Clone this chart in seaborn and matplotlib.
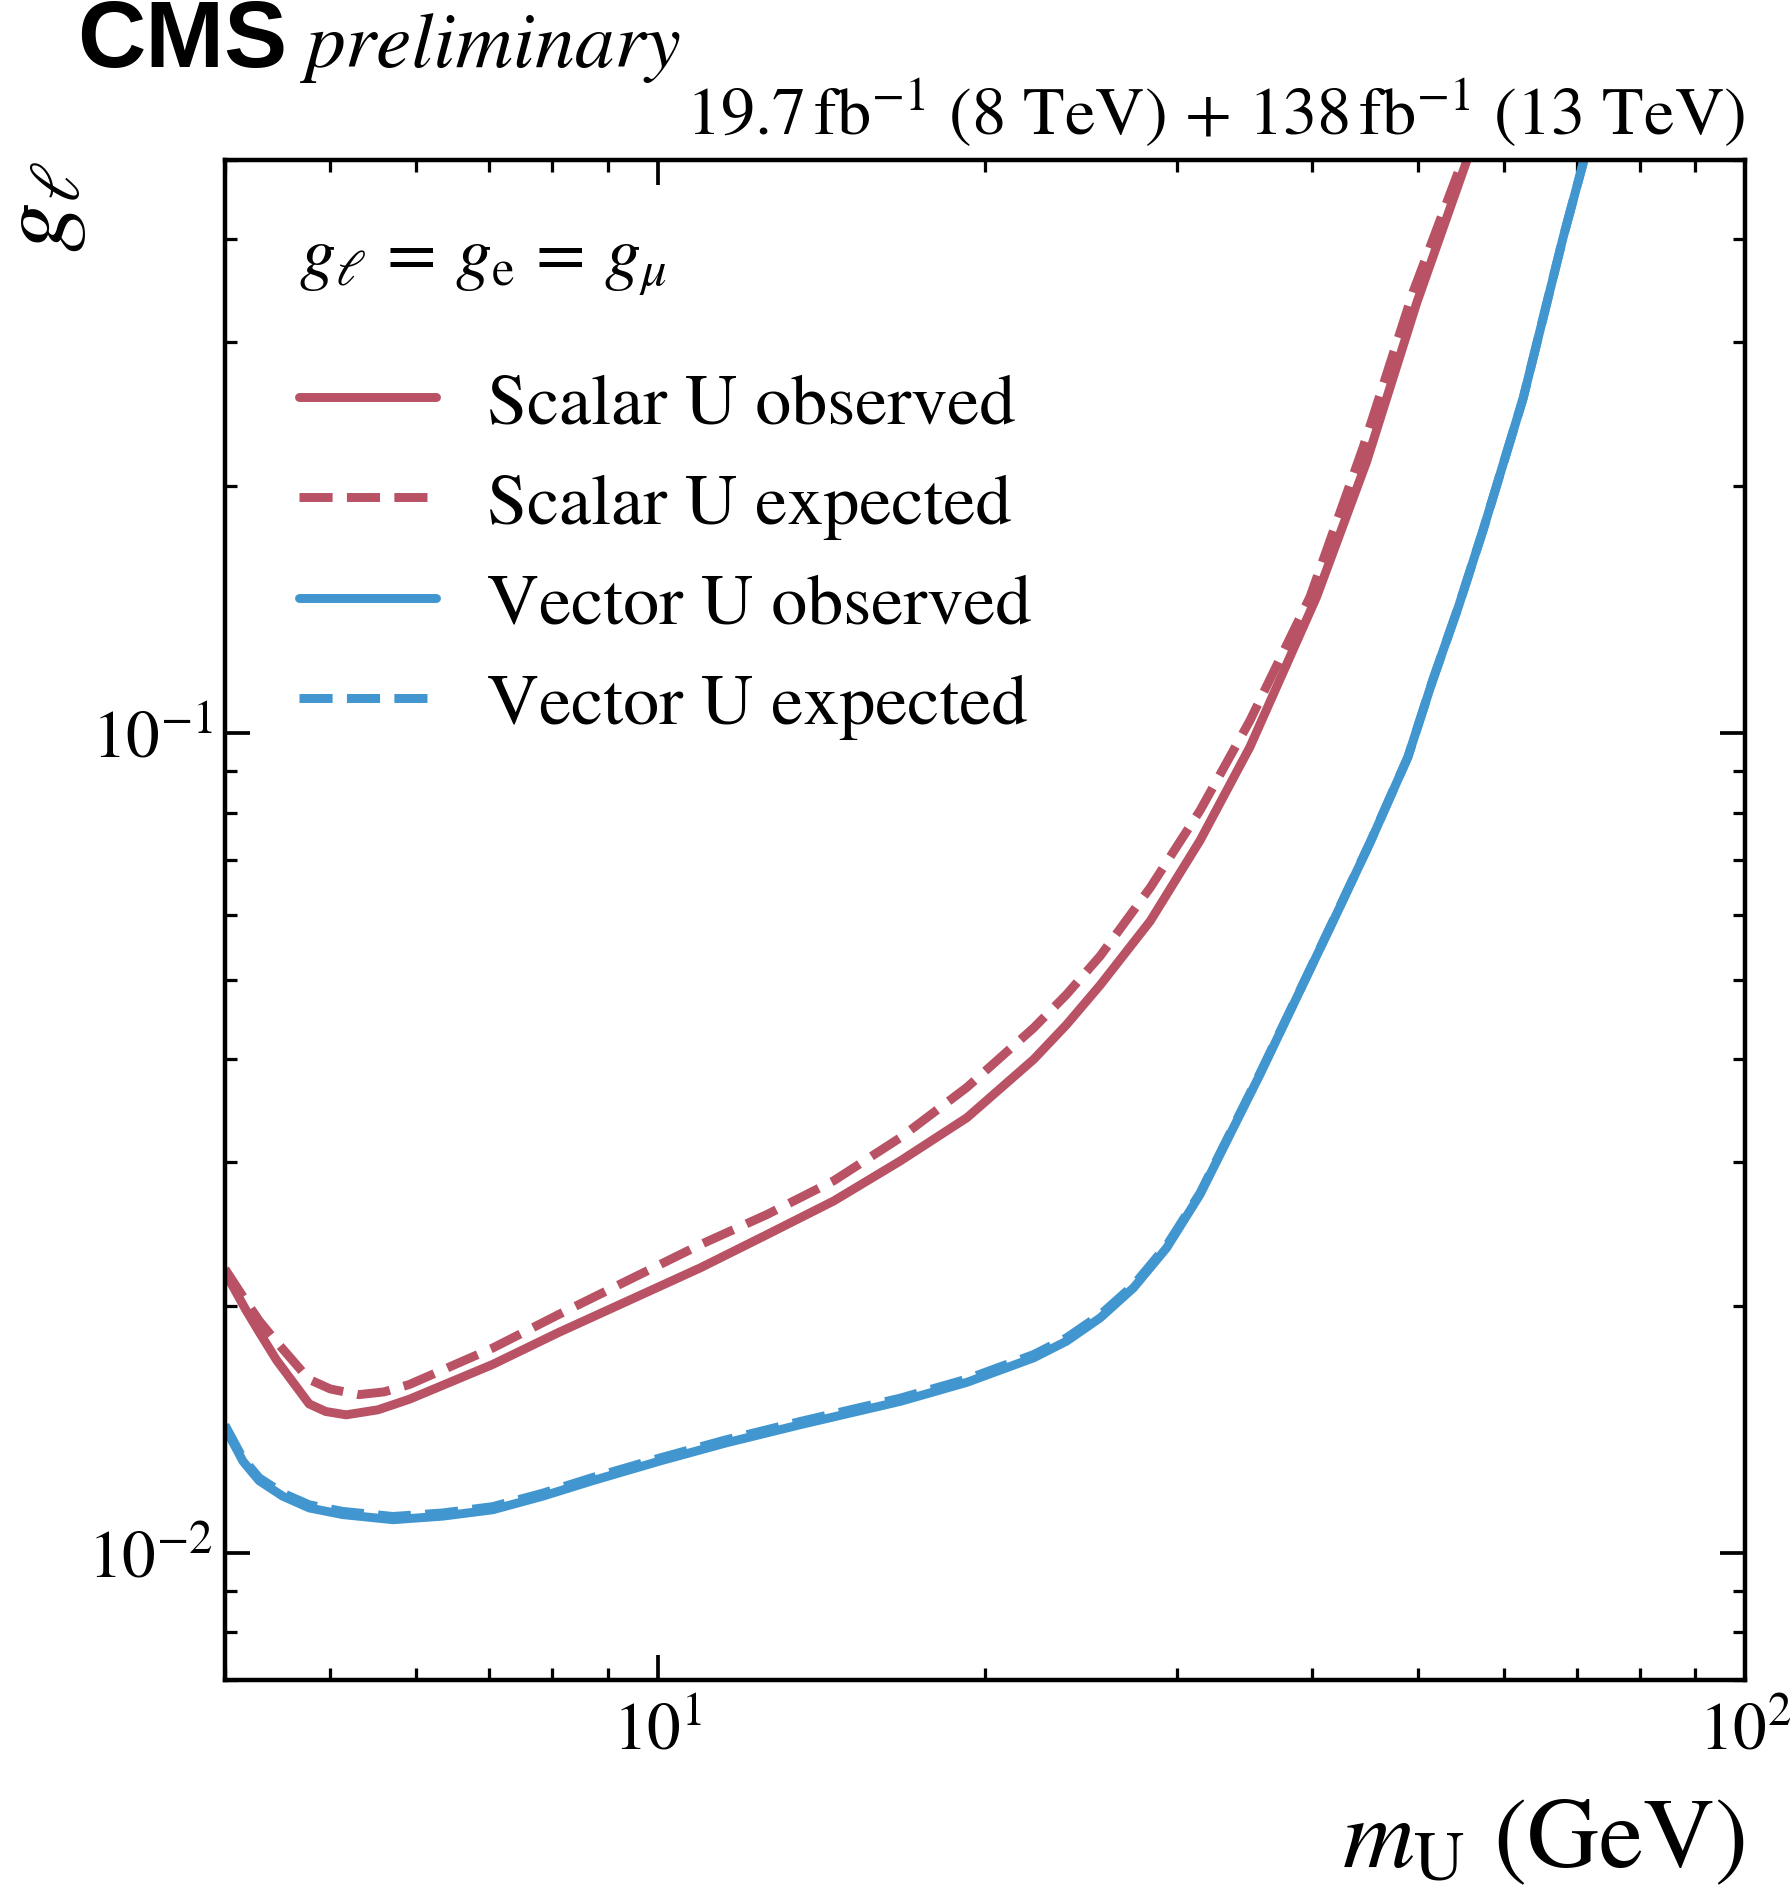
import numpy as np
import pandas as pd
import matplotlib
matplotlib.use("Agg")
import matplotlib.pyplot as plt
import matplotlib.ticker as mticker
import seaborn as sns

# 读取图中的曲线（坐标是肉眼估计）
scalar_obs_m = [4.0, 4.18, 4.30, 4.46, 4.78, 4.95, 5.17, 5.53, 5.91, 7.05, 8.11, 10.95, 12.61, 14.52, 16.72, 19.25,
                22.17, 23.77, 25.53, 28.38, 31.54, 35.05, 40.36, 44.87, 49.9, 55.5]
scalar_obs_g = [0.0220, 0.0198, 0.0186, 0.0172, 0.0152, 0.01488, 0.01474, 0.01495, 0.0154, 0.01698, 0.01858, 0.02228,
                0.02446, 0.02688, 0.03008, 0.03396, 0.0400, 0.0441, 0.0493, 0.0590, 0.0740, 0.0962, 0.1466, 0.2143,
                0.335, 0.5]

scalar_exp_m = [4.0, 4.18, 4.30, 4.46, 4.78, 5.0, 5.31, 5.6, 5.91, 7.05, 8.11, 10.95, 12.61, 14.52, 16.72, 19.25,
                22.17, 23.77, 25.53, 28.38, 31.54, 35.05, 39.8, 44.55, 49.5, 55.0]
scalar_exp_g = [0.0222, 0.0203, 0.0192, 0.0181, 0.01628, 0.01585, 0.0156, 0.01572, 0.01605, 0.01778, 0.01954, 0.02378,
                0.02588, 0.02845, 0.03211, 0.03698, 0.0437, 0.0480, 0.0535, 0.0648, 0.0805, 0.1036, 0.1466, 0.2233,
                0.345, 0.5]

vector_obs_m = [4.0, 4.155, 4.30, 4.52, 4.78, 5.13, 5.71, 6.34, 7.05, 7.84, 8.71, 10.03, 11.55, 13.53, 16.72, 19.25,
                22.17, 23.77, 25.53, 27.39, 29.38, 31.54, 35.81, 38.97, 42.11, 45.2, 48.97, 51.6, 54.5, 57.42, 62.5,
                68.0, 71.1]
vector_obs_g = [0.01422, 0.01294, 0.01225, 0.01173, 0.01135, 0.01114, 0.01098, 0.01109, 0.01129, 0.01173, 0.01225,
                0.01294, 0.01362, 0.01434, 0.01531, 0.01615, 0.0173, 0.01813, 0.01936, 0.02106, 0.02356, 0.02738,
                0.03837, 0.04853, 0.0602, 0.0735, 0.0935, 0.1159, 0.1426, 0.1768, 0.256, 0.4014, 0.5]

vector_exp_m = vector_obs_m
vector_exp_g = [0.01432, 0.01304, 0.01235, 0.01183, 0.01145, 0.01124, 0.01108, 0.01119, 0.01139, 0.01183, 0.01236,
                0.01305, 0.01374, 0.01447, 0.01545, 0.01630, 0.01746, 0.01830, 0.01953, 0.02122, 0.02372, 0.02750,
                0.03850, 0.04860, 0.0603, 0.0736, 0.0935, 0.1159, 0.1426, 0.1768, 0.256, 0.4014, 0.5]

labels = ['Scalar U observed', 'Scalar U expected', 'Vector U observed', 'Vector U expected']
red = '#b85264'
blue = '#4296d0'

sns.set_theme(style="ticks")
plt.rcParams['font.family'] = ['STIXGeneral', 'DejaVu Serif']
plt.rcParams['mathtext.fontset'] = 'stix'
plt.rcParams['axes.linewidth'] = 1.8
plt.rcParams['text.color'] = 'black'
plt.rcParams['axes.labelcolor'] = 'black'
plt.rcParams['xtick.color'] = 'black'
plt.rcParams['ytick.color'] = 'black'
plt.rcParams['axes.edgecolor'] = 'black'

fig = plt.figure(figsize=(10, 10.592), dpi=179)
ax = fig.add_axes([0.1257, 0.1134, 0.8492, 0.8017])

lw = 3.6
sns.lineplot(x=scalar_obs_m, y=scalar_obs_g, ax=ax, color=red, lw=lw, label=labels[0])
sns.lineplot(x=scalar_exp_m, y=scalar_exp_g, ax=ax, color=red, lw=lw, ls='--', label=labels[1])
sns.lineplot(x=vector_obs_m, y=vector_obs_g, ax=ax, color=blue, lw=lw, label=labels[2])
sns.lineplot(x=vector_exp_m, y=vector_exp_g, ax=ax, color=blue, lw=lw, ls='--', label=labels[3])

ax.set_xscale('log')
ax.set_yscale('log')
ax.set_xlim(4, 100)
ax.set_ylim(0.007, 0.5)
ax.xaxis.set_minor_formatter(mticker.NullFormatter())
ax.yaxis.set_minor_formatter(mticker.NullFormatter())
ax.tick_params(which='both', direction='in', top=True, right=True, colors='black', labelsize=27)
ax.tick_params(which='major', length=10, width=1.5)
ax.tick_params(which='minor', length=5, width=1.3)
ax.tick_params(axis='x', which='major', pad=9)
ax.tick_params(axis='y', which='major', pad=5)

ax.set_xlabel(r'$m_\mathrm{U}$ (GeV)', fontsize=40, loc='right', labelpad=14)
ax.set_ylabel(r'$g_\ell$', fontsize=40, loc='top', labelpad=0)

leg = ax.legend(title=r'$g_\ell\,=\,g_\mathrm{e}\,=\,g_\mu$', loc='upper left',
                bbox_to_anchor=(0.025, 0.98), frameon=False, fontsize=29,
                title_fontsize=29, handlelength=1.9, handletextpad=0.7,
                labelspacing=0.47, alignment='left', borderpad=0)
leg._legend_box.sep = 30

fig.text(0.043, 0.9645, 'CMS', fontsize=38, fontweight='bold', family=['Liberation Sans', 'DejaVu Sans'], va='baseline')
fig.text(0.171, 0.9645, 'preliminary', fontsize=32, style='italic', va='baseline')
fig.text(0.9749, 0.929, r'$19.7\,\mathrm{fb}^{-1}$ (8 TeV) + $138\,\mathrm{fb}^{-1}$ (13 TeV)',
         fontsize=27.5, ha='right', va='baseline')

fig.savefig('out.png', dpi=179)
